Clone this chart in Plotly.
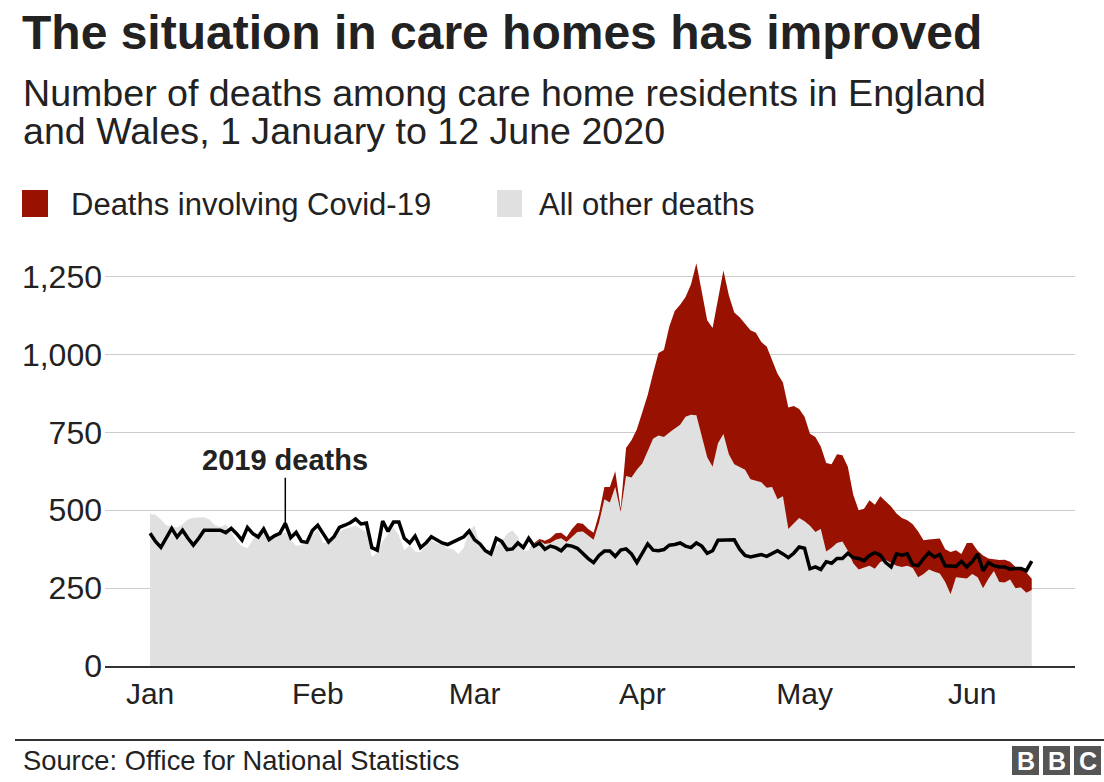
import pandas as pd
import plotly.graph_objects as go

# ---------------- data ----------------
dates = pd.date_range("2020-01-01", "2020-06-12", freq="D")

other_deaths = [
    489, 486, 470, 452, 448, 445, 455, 470, 476, 478,
    478, 470, 452, 446, 455, 430, 400, 385, 378, 405,
    430, 445, 405, 415, 420, 430, 405, 385, 388, 393,
    420, 440, 395, 400, 412, 430, 440, 445, 450, 440,
    430, 350, 365, 400, 425, 445, 420, 372, 388, 368,
    366, 385, 404, 394, 390, 378, 376, 360, 380, 435,
    450, 385, 368, 375, 385, 400, 425, 435, 415, 370,
    372, 392, 402, 392, 395, 405, 410, 398, 415, 430,
    432, 418, 405, 460, 535, 525, 575, 495, 610, 605,
    630, 650, 690, 730, 740, 735, 750, 762, 775, 800,
    807, 805, 740, 670, 640, 715, 745, 680, 648, 640,
    630, 600, 594, 590, 572, 575, 535, 545, 440, 457,
    475, 465, 450, 430, 440, 368, 380, 395, 400, 370,
    330, 310, 315, 322, 312, 334, 340, 332, 322, 318,
    322, 315, 285, 295, 310, 303, 297, 270, 230, 285,
    283, 281, 295, 285, 250, 280, 305, 270, 268, 278,
    250, 252, 235, 244,
]

covid_deaths = [0] * 71 + [
    3, 6, 10, 15, 21, 18, 16, 25, 29,
    25, 22, 23, 29, 40, 50, 50, 10, 90, 120,
    130, 165, 180, 210, 265, 280, 340, 378, 385, 385,
    418, 488, 460, 440, 445, 465, 525, 510, 487, 480,
    470, 478, 476, 450, 454, 405, 403, 365, 390, 378,
    350, 335, 296, 305, 265, 284, 268, 285, 277, 270,
    220, 190, 190, 210, 206, 211, 190, 180, 168, 157,
    146, 140, 147, 109, 96, 105, 112, 105, 136, 87,
    77, 114, 100, 85, 105, 65, 37, 70, 73, 57,
    68, 63, 65, 36,
]

deaths_2019 = [
    426, 400, 381, 410, 442, 414, 436, 410, 388, 410,
    436, 436, 436, 436, 428, 442, 425, 404, 445, 425,
    414, 440, 406, 418, 426, 458, 412, 429, 400, 397,
    435, 452, 425, 398, 415, 445, 452, 460, 472, 456,
    459, 380, 372, 465, 432, 462, 462, 410, 395, 417,
    380, 395, 415, 404, 395, 390, 398, 404, 415, 434,
    405, 392, 370, 360, 410, 400, 374, 376, 395, 380,
    410, 385, 395, 375, 385, 380, 370, 388, 385, 378,
    360, 345, 332, 355, 369, 369, 352, 372, 376, 360,
    332, 365, 392, 372, 370, 374, 388, 390, 395, 385,
    380, 395, 385, 362, 370, 404, 405, 405, 405, 375,
    355, 350, 355, 358, 352, 360, 370, 360, 348, 362,
    382, 378, 312, 318, 310, 335, 330, 345, 345, 362,
    348, 345, 338, 355, 364, 356, 332, 318, 360, 356,
    360, 325, 322, 345, 364, 350, 358, 322, 320, 320,
    336, 318, 335, 360, 306, 332, 322, 318, 318, 311,
    313, 313, 306, 337,
]

month_ticks = ["2020-01-01", "2020-02-01", "2020-03-01",
               "2020-04-01", "2020-05-01", "2020-06-01"]
month_labels = ["Jan", "Feb", "Mar", "Apr", "May", "Jun"]
y_ticks = [0, 250, 500, 750, 1000, 1250]

# ---------------- styling / layout ----------------
W, H = 1104, 782
L, R, T, B = 105, 1075, 258, 666   # plot area in pixels
FONT = "Liberation Sans, Arial, Helvetica, sans-serif"
TXT = "#222222"
RED = "#991100"
GREY = "#e0e0e0"


def px(x):
    return (x - L) / (R - L)


def py(y):
    return (B - y) / (B - T)


fig = go.Figure()
fig.add_trace(go.Scatter(
    x=dates, y=other_deaths, name="All other deaths", mode="lines",
    stackgroup="deaths", line=dict(width=0, color=GREY), fillcolor=GREY,
    hoverinfo="x+y"))
fig.add_trace(go.Scatter(
    x=dates, y=covid_deaths, name="Deaths involving Covid-19", mode="lines",
    stackgroup="deaths", line=dict(width=0, color=RED), fillcolor=RED,
    hoverinfo="x+y"))
fig.add_trace(go.Scatter(
    x=dates, y=deaths_2019, name="2019 deaths", mode="lines",
    line=dict(width=3.5, color="#000000")))

shapes = [
    # legend swatches
    dict(type="rect", xref="paper", yref="paper", x0=px(22), x1=px(48),
         y0=py(217), y1=py(190), fillcolor=RED, line=dict(width=0)),
    dict(type="rect", xref="paper", yref="paper", x0=px(497), x1=px(522),
         y0=py(217), y1=py(190), fillcolor=GREY, line=dict(width=0)),
    # footer rule
    dict(type="line", xref="paper", yref="paper", x0=px(15), x1=px(1104),
         y0=py(740), y1=py(740), line=dict(color="#333333", width=2)),
]
for bx in (1012, 1043, 1074):
    shapes.append(dict(type="rect", xref="paper", yref="paper",
                       x0=px(bx), x1=px(bx + 27), y0=py(775), y1=py(746),
                       fillcolor="#555555", line=dict(width=0)))

annotations = [
    dict(text="The situation in care homes has improved", xref="paper",
         yref="paper", x=px(20), y=py(33), xanchor="left", yanchor="middle",
         showarrow=False, font=dict(size=48, color=TXT, family=FONT, weight="bold")),
    dict(text="Number of deaths among care home residents in England",
         xref="paper", yref="paper", x=px(21), y=py(93), xanchor="left",
         yanchor="middle", showarrow=False,
         font=dict(size=37.6, color=TXT, family=FONT)),
    dict(text="and Wales, 1 January to 12 June 2020",
         xref="paper", yref="paper", x=px(21), y=py(131), xanchor="left",
         yanchor="middle", showarrow=False,
         font=dict(size=37.6, color=TXT, family=FONT)),
    dict(text="Deaths involving Covid-19", xref="paper", yref="paper",
         x=px(69), y=py(204), xanchor="left", yanchor="middle",
         showarrow=False, font=dict(size=31, color=TXT, family=FONT)),
    dict(text="All other deaths", xref="paper", yref="paper",
         x=px(537), y=py(204), xanchor="left", yanchor="middle",
         showarrow=False, font=dict(size=31, color=TXT, family=FONT)),
    dict(text="Source: Office for National Statistics", xref="paper",
         yref="paper", x=px(21), y=py(760), xanchor="left", yanchor="middle",
         showarrow=False, font=dict(size=27.3, color=TXT, family=FONT)),
    dict(text="2019 deaths", x="2020-01-26", y=deaths_2019[25],
         xref="x", yref="y", ax=0, ay=-63, showarrow=True, arrowhead=0,
         arrowwidth=1.5, arrowcolor="#000000", standoff=0,
         font=dict(size=29, color=TXT, family=FONT, weight="bold")),
]
for bx, letter in zip((1012, 1043, 1074), ("B", "B", "C")):
    annotations.append(dict(
        text=letter, xref="paper", yref="paper", x=px(bx + 13.5), y=py(761),
        xanchor="center", yanchor="middle", showarrow=False,
        font=dict(size=25, color="#ffffff", family=FONT, weight="bold")))

fig.update_layout(
    width=W, height=H,
    margin=dict(l=L, r=W - R, t=T, b=H - B, pad=0),
    paper_bgcolor="white", plot_bgcolor="white",
    showlegend=False,
    font=dict(family=FONT, color=TXT),
    shapes=shapes, annotations=annotations,
    xaxis=dict(
        type="date",
        range=["2019-12-23 16:00", "2020-06-20 00:00"],
        tickvals=month_ticks, ticktext=month_labels,
        tickfont=dict(size=30, color=TXT, family=FONT),
        showgrid=False, zeroline=False,
        showline=True, linecolor="#333333", linewidth=2,
        ticks="", fixedrange=True,
    ),
    yaxis=dict(
        range=[0, 1310],
        tickvals=y_ticks, tickformat=",d",
        tickfont=dict(size=32, color=TXT, family=FONT),
        ticklabelstandoff=2,
        showgrid=True, gridcolor="#cccccc", gridwidth=1.3,
        zeroline=False, showline=False, ticks="", fixedrange=True,
    ),
)

fig.write_html(
    "out.html",
    config={"displayModeBar": False},
    post_script="document.body.style.margin='0';document.body.style.overflow='hidden';",
)
